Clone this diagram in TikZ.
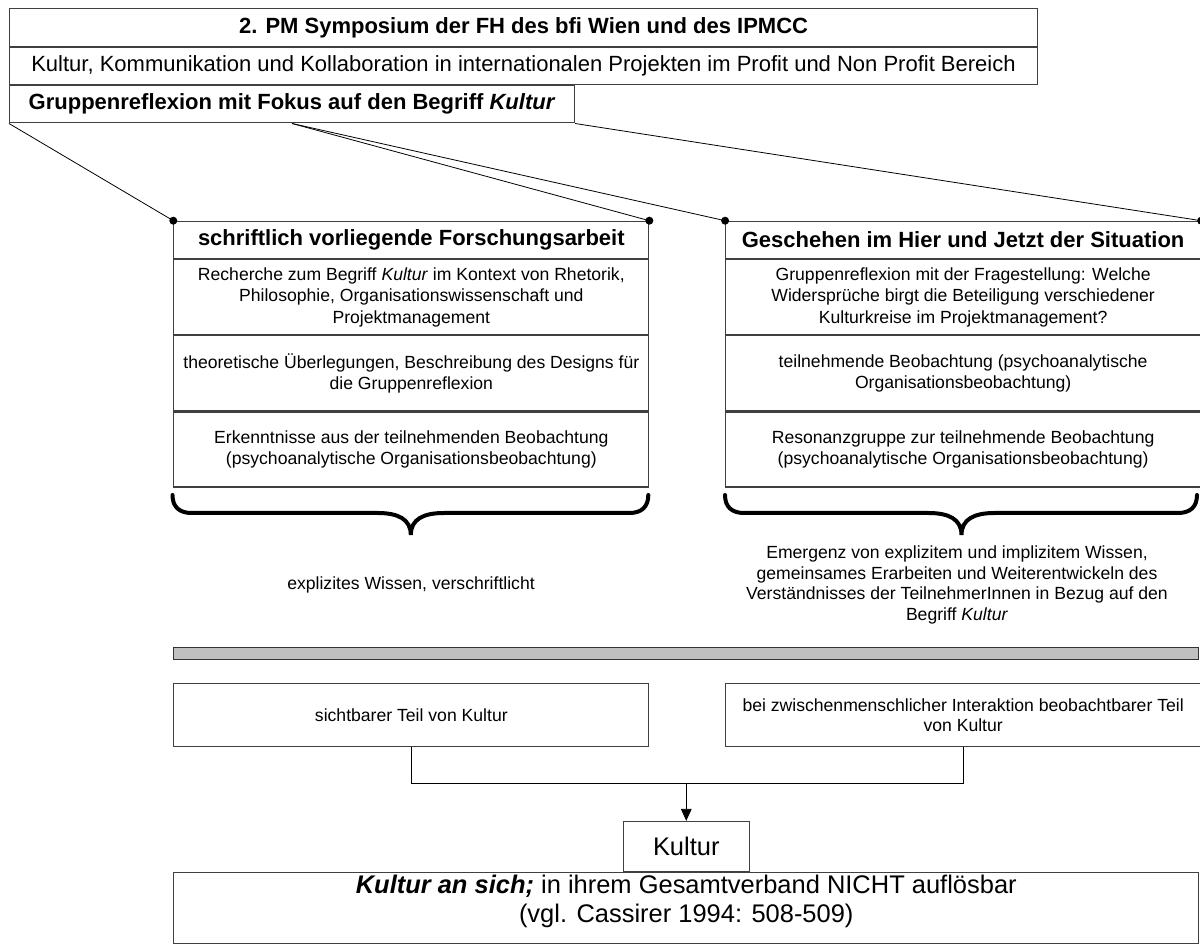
\documentclass[tikz,border=0pt]{standalone}
\usepackage{fontspec}
\setmainfont{Liberation Sans}
\usepackage{tikz}
\usetikzlibrary{
    arrows.meta,
    positioning
}
\definecolor{barfill}{HTML}{C0C0C0}
\tikzset{
    toprow/.style = {
        rectangle,
        draw=black!75,
        line width=0.8pt,
        minimum width=771pt,
        minimum height=28pt,
        inner sep=0pt,
        align=center,
        font=\fontsize{16.5}{19.8}\selectfont
    },
    colhead/.style = {
        rectangle,
        draw=black!75,
        line width=0.8pt,
        minimum width=356.25pt,
        minimum height=28.2pt,
        inner sep=0pt,
        font=\fontsize{16.5}{19.8}\selectfont\bfseries
    },
    colcell/.style = {
        rectangle,
        draw=black!75,
        line width=0.8pt,
        minimum width=356.25pt,
        minimum height=56.25pt,
        inner sep=0pt,
        align=center,
        font=\fontsize{13.2}{16.3}\selectfont
    },
    partbox/.style = {
        rectangle,
        draw=black!75,
        line width=0.8pt,
        minimum width=356.25pt,
        minimum height=47pt,
        inner sep=0pt,
        align=center,
        font=\fontsize{13.2}{15.4}\selectfont
    },
    note/.style = {
        align=center,
        inner sep=0pt,
        font=\fontsize{13.2}{15.3}\selectfont
    },
    link/.style = {
        black,
        line width=0.6pt
    },
    curly/.style = {
        black,
        line width=3pt,
        line cap=round
    },
    arrow/.style = {
        -{Triangle[length=9pt,width=8pt]},
        black,
        line width=0.6pt
    }
}

\begin{document}
\begin{tikzpicture}[x=0.75pt,y=-0.75pt]
\useasboundingbox (0,0) rectangle (1200,944);
\node[toprow, anchor=north west] (title) at (9,8.3)
    {\bfseries 2. PM Symposium der FH des bfi Wien und des IPMCC};
\node[toprow, below=0pt of title] (theme)
    {Kultur, Kommunikation und Kollaboration in internationalen Projekten im Profit und Non Profit Bereich};
\node[toprow, anchor=north west, minimum width=423.75pt] (reflexion) at (theme.south west)
    {\bfseries Gruppenreflexion mit Fokus auf den Begriff \textit{Kultur}};

\node[colhead, anchor=north west] (lhead) at (173.3,220.7) {schriftlich vorliegende Forschungsarbeit};
\node[colcell, below=0pt of lhead] (lrow1)
    {Recherche zum Begriff \textit{Kultur} im Kontext von Rhetorik,\\Philosophie, Organisationswissenschaft und\\Projektmanagement};
\node[colcell, below=0pt of lrow1] (lrow2)
    {theoretische Überlegungen, Beschreibung des Designs für\\die Gruppenreflexion};
\node[colcell, below=0pt of lrow2] (lrow3)
    {Erkenntnisse aus der teilnehmenden Beobachtung\\(psychoanalytische Organisationsbeobachtung)};

\node[colhead, right=56.8pt of lhead] (rhead) {Geschehen im Hier und Jetzt der Situation};
\node[colcell, below=0pt of rhead] (rrow1)
    {Gruppenreflexion mit der Fragestellung: Welche\\Widersprüche birgt die Beteiligung verschiedener\\Kulturkreise im Projektmanagement?};
\node[colcell, below=0pt of rrow1] (rrow2)
    {teilnehmende Beobachtung (psychoanalytische\\Organisationsbeobachtung)};
\node[colcell, below=0pt of rrow2] (rrow3)
    {Resonanzgruppe zur teilnehmende Beobachtung\\(psychoanalytische Organisationsbeobachtung)};

\draw[link] (reflexion.south west) -- (lhead.north west);
\draw[link] (reflexion.south) -- (lhead.north east);
\draw[link] (reflexion.south) -- (rhead.north west);
\draw[link] (reflexion.south east) -- (rhead.north east);
\foreach \c in {lhead.north west, lhead.north east, rhead.north west, rhead.north east}
    \fill (\c) circle (3pt);

\foreach \a/\m/\b in {172.5/410.8/648.3, 725/961.5/1197}
    \draw[curly] (\a,495) .. controls (\a,507) and (\a+7,513) .. (\a+19,513)
        -- (\m-33,513) .. controls (\m-13,513) and (\m,519) .. (\m,535)
        .. controls (\m,519) and (\m+13,513) .. (\m+33,513)
        -- (\b-19,513) .. controls (\b-7,513) and (\b,507) .. (\b,495);

\node[note] (lknow) at (411,585) {explizites Wissen, verschriftlicht};
\node[note] (rknow) at (957,585)
    {Emergenz von explizitem und implizitem Wissen,\\gemeinsames Erarbeiten und Weiterentwickeln des\\Verständnisses der TeilnehmerInnen in Bezug auf den\\Begriff \textit{Kultur}};

\node[rectangle, draw=black!80, line width=0.8pt, fill=barfill, anchor=north west,
    minimum width=768.75pt, minimum height=9.2pt, inner sep=0pt] (bar) at (173.3,646.7) {};

\node[partbox, anchor=north west] (lsight) at (173.3,683.3) {sichtbarer Teil von Kultur};
\node[partbox, right=56.8pt of lsight] (rsight)
    {bei zwischenmenschlicher Interaktion beobachtbarer Teil\\von Kultur};

\node[rectangle, draw=black!75, line width=0.8pt, anchor=north west,
    minimum width=768.5pt, minimum height=53.5pt, inner sep=0pt, align=center,
    text depth=14pt, font=\fontsize{19.1}{21.5}\selectfont] (whole) at (173.4,871.7)
    {\textbf{\textit{Kultur an sich;}} in ihrem Gesamtverband NICHT auflösbar\\(vgl. Cassirer 1994: 508-509)};
\node[rectangle, draw=black!75, line width=0.8pt, minimum width=94.3pt, minimum height=37.3pt,
    inner sep=0pt, font=\fontsize{19.1}{21}\selectfont, above=0pt of whole] (kultur) {Kultur};

\coordinate[above=28.3pt of kultur] (join);
\draw[link] (lsight.south) |- (join) -| (rsight.south);
\draw[arrow] (join) -- (kultur.north);
\end{tikzpicture}
\end{document}
